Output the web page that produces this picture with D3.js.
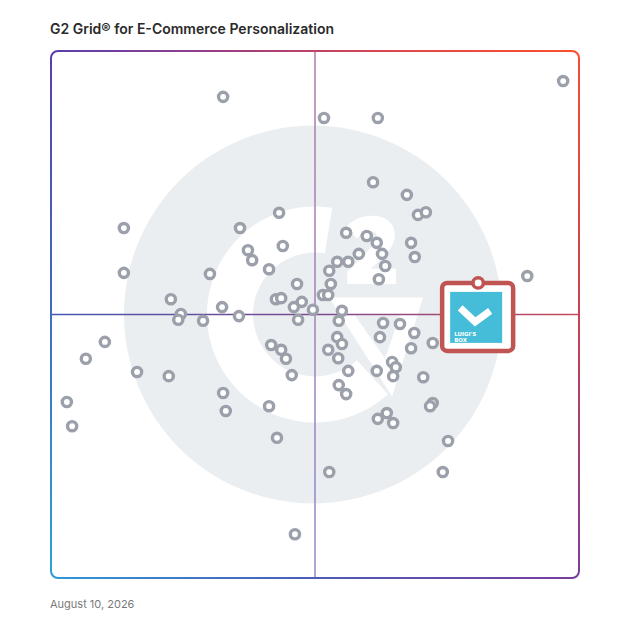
<!DOCTYPE html>
<html>
    <head>
        <script src="https://d3js.org/d3.v7.min.js"></script>
        <style>
            body { margin: 0; background: #fff; }
        </style>
    </head>
    <body>
        <div id="grid"></div>
    </body>
    <script>
        // product positions on the grid (0-100 both ways)
        var satisfaction = [32.6, 51.7, 61.9, 97.0, 61.0, 67.4, 69.5, 71.0, 13.8, 35.8,
            43.2, 55.9, 59.8, 61.7, 68.2, 37.3, 38.1, 43.9, 58.3, 62.7,
            68.9, 54.2, 56.3, 63.3, 13.8, 30.1, 41.3, 52.7, 62.1, 46.6,
            53.0, 51.5, 52.5, 22.7, 32.4, 42.6, 43.6, 46.0, 47.5, 49.6,
            24.6, 24.1, 28.8, 35.6, 46.8, 55.1, 54.5, 62.9, 66.1, 68.8,
            62.3, 72.3, 68.2, 41.7, 43.6, 44.5, 54.2, 55.1, 52.5, 54.4,
            45.6, 56.3, 61.7, 64.6, 65.3, 64.8, 70.5, 16.3, 22.3, 54.5,
            55.9, 32.6, 33.1, 41.3, 63.6, 61.9, 64.8, 72.3, 71.8, 75.2,
            42.8, 52.7, 74.2, 10.2, 6.6, 3.0, 4.0, 46.2, 90.2];
        var presence = [91.3, 87.3, 87.3, 94.3, 75.1, 72.7, 68.9, 69.4, 66.4, 66.4,
            69.3, 65.5, 64.9, 63.6, 63.6, 62.2, 60.3, 63.0, 61.5, 61.5,
            60.9, 60.0, 60.0, 59.2, 57.9, 57.7, 58.6, 58.3, 56.7, 55.8,
            55.8, 53.7, 53.7, 52.9, 51.4, 52.9, 53.1, 51.4, 52.4, 50.9,
            50.1, 49.0, 48.8, 49.7, 49.0, 50.7, 48.8, 48.4, 48.2, 46.5,
            45.7, 44.6, 43.6, 44.2, 43.3, 41.6, 45.7, 44.4, 43.3, 41.7,
            38.5, 39.3, 39.3, 41.0, 40.0, 38.3, 38.1, 39.1, 38.3, 36.6,
            34.9, 35.1, 31.7, 32.6, 31.3, 30.2, 29.4, 33.2, 32.6, 26.0,
            26.6, 20.1, 20.1, 44.8, 41.6, 33.4, 28.8, 8.3, 57.3];

        var featured = ["Luigi's Box"];
        var featuredX = [80.9];
        var featuredY = [56.0];

        var title = "G2 Grid® for E-Commerce Personalization";
        var dateLabel = "August 10, 2026";

        var width = 628, height = 628;
        var gx0 = 51, gx1 = 579, gy0 = 51, gy1 = 578;

        var svg = d3.select("#grid")
            .append("svg")
                .attr("width", width)
                .attr("height", height)
                .style("display", "block");

        var x = d3.scaleLinear().domain([0, 100]).range([gx0, gx1]);
        var y = d3.scaleLinear().domain([0, 100]).range([gy1, gy0]);

        var defs = svg.append("defs");
        function grad(id, x1, y1, x2, y2, stops) {
            var g = defs.append("linearGradient")
                .attr("id", id)
                .attr("gradientUnits", "userSpaceOnUse")
                .attr("x1", x1).attr("y1", y1)
                .attr("x2", x2).attr("y2", y2);
            stops.forEach(function(s, i) {
                g.append("stop")
                    .attr("offset", i / (stops.length - 1))
                    .attr("stop-color", s);
            });
        }
        grad("gTop", gx0, 0, gx1, 0, ["#5a3fae", "#9c3e84", "#e0484a", "#fd4f2b"]);
        grad("gRight", 0, gy0, 0, gy1, ["#f74d30", "#c8434f", "#7e3c9c"]);
        grad("gBottom", gx0, 0, gx1, 0, ["#2e98d8", "#4d5cb8", "#7a3d9e"]);
        grad("gLeft", 0, gy0, 0, gy1, ["#553faf", "#3f6dc2", "#2ea1dc"]);
        grad("gVert", 0, gy0, 0, gy1, ["#b27aa6", "#a181b8", "#8f88cb"]);
        grad("gHorz", gx0, 0, gx1, 0, ["#4758b0", "#7c4a90", "#c84b5b"]);

        // faded G2 logo behind the points
        var cx = x(50), cy = y(50);
        var logo = svg.append("g");
        logo.append("circle")
            .attr("cx", cx - 2)
            .attr("cy", cy)
            .attr("r", 189)
            .attr("fill", "#ebeef1");
        logo.append("path")
            .attr("transform", "translate(" + cx + "," + cy + ")")
            .attr("d", d3.arc()({innerRadius: 62, outerRadius: 108, startAngle: 2.4, endAngle: Math.PI * 2 + 0.16}))
            .attr("fill", "#fff");
        logo.append("path")
            .attr("d", "M" + (cx + 14) + "," + (cy - 17) + "L" + (cx + 108) + "," + (cy - 17) + "L" + (cx + 77) + "," + (cy + 82) + "Z" +
                       "M" + (cx + 40) + "," + (cy + 1) + "L" + (cx + 85) + "," + (cy + 1) + "L" + (cx + 70) + "," + (cy + 44) + "Z")
            .attr("fill-rule", "evenodd")
            .attr("fill", "#fff");
        logo.append("text")
            .attr("x", cx + 57)
            .attr("y", cy - 31)
            .attr("text-anchor", "middle")
            .style("font", "800 94px 'Open Sans'")
            .attr("fill", "#fff")
            .text("2");

        // quadrant lines
        svg.append("line")
            .attr("x1", x(50)).attr("x2", x(50))
            .attr("y1", gy0).attr("y2", gy1)
            .attr("stroke", "url(#gVert)")
            .attr("stroke-width", 1.5);
        svg.append("line")
            .attr("x1", gx0).attr("x2", gx1)
            .attr("y1", y(50)).attr("y2", y(50))
            .attr("stroke", "url(#gHorz)")
            .attr("stroke-width", 1.5);

        // frame, one gradient per side
        var r = 7;
        var frame = svg.append("g").attr("fill", "none").attr("stroke-width", 2);
        frame.append("path")
            .attr("d", "M" + gx0 + "," + (gy0 + r) + "A" + r + "," + r + " 0 0 1 " + (gx0 + r) + "," + gy0 +
                       "L" + (gx1 - r) + "," + gy0 + "A" + r + "," + r + " 0 0 1 " + gx1 + "," + (gy0 + r))
            .attr("stroke", "url(#gTop)");
        frame.append("path")
            .attr("d", "M" + gx0 + "," + (gy1 - r) + "A" + r + "," + r + " 0 0 0 " + (gx0 + r) + "," + gy1 +
                       "L" + (gx1 - r) + "," + gy1 + "A" + r + "," + r + " 0 0 0 " + gx1 + "," + (gy1 - r))
            .attr("stroke", "url(#gBottom)");
        frame.append("line")
            .attr("x1", gx0).attr("x2", gx0)
            .attr("y1", gy0 + r).attr("y2", gy1 - r)
            .attr("stroke", "url(#gLeft)");
        frame.append("line")
            .attr("x1", gx1).attr("x2", gx1)
            .attr("y1", gy0 + r).attr("y2", gy1 - r)
            .attr("stroke", "url(#gRight)");

        // products
        svg.append("g")
            .selectAll("circle")
            .data(d3.range(satisfaction.length))
            .enter().append("circle")
                .attr("cx", function(i) { return x(satisfaction[i]); })
                .attr("cy", function(i) { return y(presence[i]); })
                .attr("r", 4.6)
                .attr("fill", "#fff")
                .attr("stroke", "#9ba0ab")
                .attr("stroke-width", 3.4);

        // featured product marker
        var marker = svg.append("g")
            .selectAll("g")
            .data(featured)
            .enter().append("g")
                .attr("transform", function(d, i) {
                    return "translate(" + x(featuredX[i]) + "," + y(featuredY[i]) + ")";
                });
        marker.append("rect")
            .attr("x", -36).attr("y", 0)
            .attr("width", 71).attr("height", 68)
            .attr("rx", 5)
            .attr("fill", "#fff")
            .attr("stroke", "#c05452")
            .attr("stroke-width", 4.5);
        marker.append("circle")
            .attr("r", 5.2)
            .attr("fill", "#fff")
            .attr("stroke", "#c05452")
            .attr("stroke-width", 3.5);
        marker.append("rect")
            .attr("x", -28).attr("y", 9)
            .attr("width", 52).attr("height", 51)
            .attr("fill", "#46bdd8");
        marker.append("path")
            .attr("d", "M-18,25L-3,39L12,28")
            .attr("fill", "none")
            .attr("stroke", "#fff")
            .attr("stroke-width", 7);
        marker.append("text")
            .attr("x", -24).attr("y", 53)
            .style("font", "600 5.5px 'DejaVu Sans'")
            .attr("fill", "#fff")
            .text("LUIGI'S");
        marker.append("text")
            .attr("x", -24).attr("y", 59.5)
            .style("font", "600 5.5px 'DejaVu Sans'")
            .attr("fill", "#fff")
            .text("BOX");

        svg.append("text")
            .attr("x", 50).attr("y", 34)
            .style("font", "600 14px Inter")
            .attr("fill", "#2a2a2a")
            .text(title);

        svg.append("text")
            .attr("x", 50).attr("y", 608)
            .style("font", "400 11px Inter")
            .attr("fill", "#7a7a7a")
            .text(dateLabel);
    </script>
</html>
